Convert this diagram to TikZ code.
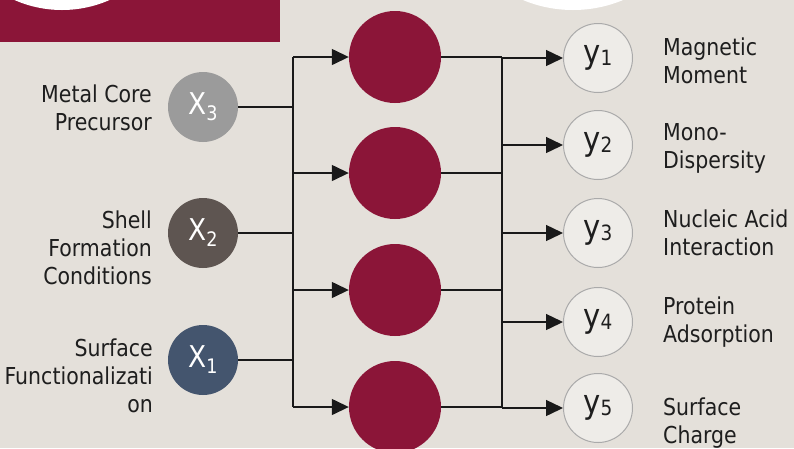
\documentclass[tikz,border=0pt]{standalone}
\usepackage{fontspec}
\setmainfont{DejaVu Sans}[FakeStretch=0.88]
\usetikzlibrary{arrows.meta}
\definecolor{bgc}{RGB}{228,224,218}
\definecolor{wine}{RGB}{139,21,56}
\definecolor{xthree}{RGB}{155,155,155}
\definecolor{xtwo}{RGB}{94,85,81}
\definecolor{xone}{RGB}{68,85,110}
\definecolor{yfill}{RGB}{238,236,232}
\definecolor{yline}{RGB}{170,170,170}
\definecolor{txt}{RGB}{30,30,30}
\definecolor{wire}{RGB}{25,25,25}
\tikzset{
  hid/.style={circle, fill=wine, minimum size=92pt, inner sep=0pt},
  xin/.style={circle, minimum size=70pt, inner sep=0pt, text=white, font=\fontsize{30}{30}\selectfont},
  yout/.style={circle, fill=yfill, draw=yline, line width=1pt, minimum size=69pt, inner sep=0pt, text=txt, font=\fontsize{33}{33}\selectfont},
  lbl/.style={text=txt, font=\fontsize{23.3}{28}\selectfont, inner sep=0pt},
  wireln/.style={draw=wire, line width=1.4pt},
  arr/.style={wireln, -{Triangle[length=17pt,width=16pt]}}
}
\newcommand{\xsub}[1]{X\raisebox{-6pt}{\fontsize{20}{20}\selectfont #1}}
\newcommand{\ysub}[1]{y\raisebox{-2pt}{\fontsize{21}{21}\selectfont #1}}
\begin{document}
\begin{tikzpicture}[x=1pt,y=-1pt]
\useasboundingbox (0,0) rectangle (794,448);
\clip (0,0) rectangle (794,448);
\fill[bgc] (0,0) rectangle (794,448);
% top decorations
\fill[wine] (0,0) rectangle (280,42);
\fill[white] (62,-108) circle (118);
\fill[white] (573,-120) circle (130);
% hidden layer
\node[hid] (h1) at (395,57) {};
\node[hid] (h2) at (395,173) {};
\node[hid] (h3) at (395,290) {};
\node[hid] (h4) at (395,407) {};
% inputs
\node[xin, fill=xthree] (x3) at (203,107) {\xsub{3}};
\node[xin, fill=xtwo] (x2) at (203,233) {\xsub{2}};
\node[xin, fill=xone] (x1) at (203,360) {\xsub{1}};
% outputs
\node[yout] (y1) at (598,58) {\ysub{1}};
\node[yout] (y2) at (598,145) {\ysub{2}};
\node[yout] (y3) at (598,233) {\ysub{3}};
\node[yout] (y4) at (598,322) {\ysub{4}};
\node[yout] (y5) at (598,408) {\ysub{5}};
% buses
\coordinate (lbus) at (293,0);
\coordinate (rbus) at (502,0);
\draw[wireln] (x3) -- (x3 -| lbus);
\draw[wireln] (x2) -- (x2 -| lbus);
\draw[wireln] (x1) -- (x1 -| lbus);
\draw[wireln] (h1 -| lbus) -- (h4 -| lbus);
\draw[arr] (h1 -| lbus) -- (h1);
\draw[arr] (h2 -| lbus) -- (h2);
\draw[arr] (h3 -| lbus) -- (h3);
\draw[arr] (h4 -| lbus) -- (h4);
\draw[wireln] (h1) -- (h1 -| rbus);
\draw[wireln] (h2) -- (h2 -| rbus);
\draw[wireln] (h3) -- (h3 -| rbus);
\draw[wireln] (h4) -- (h4 -| rbus);
\draw[wireln] (y1 -| rbus) -- (y5 -| rbus);
\draw[arr] (y1 -| rbus) -- (y1);
\draw[arr] (y2 -| rbus) -- (y2);
\draw[arr] (y3 -| rbus) -- (y3);
\draw[arr] (y4 -| rbus) -- (y4);
\draw[arr] (y5 -| rbus) -- (y5);
% left labels
\node[lbl, anchor=east, align=right] (lx3) at (152,108) {Metal Core\\Precursor};
\node[lbl, anchor=east, align=right] (lx2) at (152,248) {Shell\\Formation\\Conditions};
\node[lbl, anchor=east, align=right] (lx1) at (153,376) {Surface\\Functionalizati\\on};
% right labels
\node[lbl, anchor=west, align=left] (ly1) at (663,61) {Magnetic\\Moment};
\node[lbl, anchor=west, align=left] (ly2) at (663,148) {Mono-\\Dispersity};
\node[lbl, anchor=west, align=left] (ly3) at (663,233) {Nucleic Acid\\Interaction};
\node[lbl, anchor=west, align=left] (ly4) at (663,322) {Protein\\Adsorption};
\node[lbl, anchor=west, align=left] (ly5) at (663,423) {Surface\\Charge};
\end{tikzpicture}
\end{document}
